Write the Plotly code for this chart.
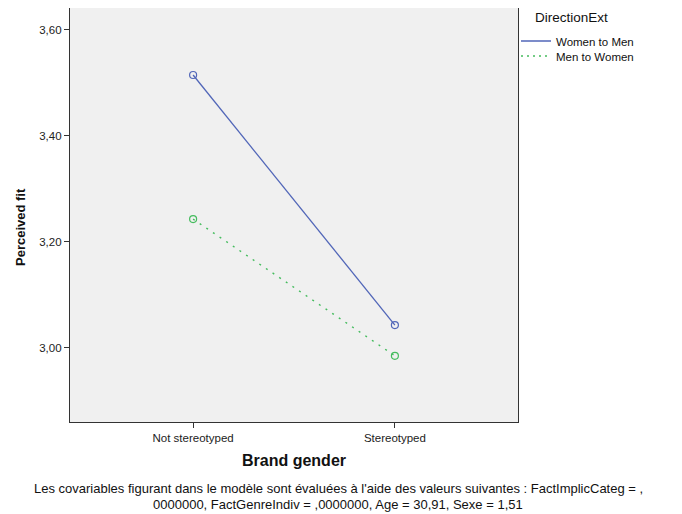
import plotly.graph_objects as go

categories = ["Not stereotyped", "Stereotyped"]
series_names = ["Women to Men", "Men to Women"]
women_to_men = [3.515, 3.043]
men_to_women = [3.243, 2.985]
y_ticks = [3.00, 3.20, 3.40, 3.60]
y_tick_labels = ["3,00", "3,20", "3,40", "3,60"]
footnote_lines = [
    "Les covariables figurant dans le modèle sont évaluées à l'aide des valeurs suivantes : FactImplicCateg = ,",
    "0000000, FactGenreIndiv = ,0000000, Age = 30,91, Sexe = 1,51",
]

FONT = "Liberation Sans, Arial, sans-serif"
BLUE = "#5166B8"
GREEN = "#45BC5E"
W, H = 674, 506          # page body has an 8px offset in the browser
ML, MR, MT, MB = 62, 164, 0, 92

fig = go.Figure()
fig.add_trace(go.Scatter(
    x=categories, y=women_to_men, name=series_names[0], mode="lines+markers",
    line=dict(color=BLUE, width=1.3), showlegend=False,
    marker=dict(symbol="circle-open", size=7, color=BLUE, line=dict(width=1.2)),
))
fig.add_trace(go.Scatter(
    x=categories, y=men_to_women, name=series_names[1], mode="lines+markers",
    line=dict(color=GREEN, width=1.4, dash="2px,6px"), showlegend=False,
    marker=dict(symbol="circle-open", size=7, color=GREEN, line=dict(width=1.2)),
))
# legend entries (line samples only, as in the reference)
fig.add_trace(go.Scatter(x=[None], y=[None], name=series_names[0], mode="lines",
                         line=dict(color=BLUE, width=1.3), legend="legend"))
fig.add_trace(go.Scatter(x=[None], y=[None], name=series_names[1], mode="lines",
                         line=dict(color=GREEN, width=1.4, dash="2px,4px"), legend="legend2"))

pw = W - ML - MR
ph = H - MT - MB
leg_common = dict(x=(508 - ML) / pw, xanchor="left", yanchor="middle",
                  font=dict(size=11.5, color="#111"), itemwidth=30,
                  bgcolor="rgba(0,0,0,0)")
fig.update_layout(
    width=W, height=H,
    margin=dict(l=ML, r=MR, t=MT, b=MB),
    paper_bgcolor="white", plot_bgcolor="#F0F0F0",
    font=dict(family=FONT, size=11.5, color="#222"),
    legend=dict(y=1 - (33 - MT) / ph, **leg_common),
    legend2=dict(y=1 - (48 - MT) / ph, **leg_common),
    showlegend=True,
)
fig.update_xaxes(
    type="category", range=[-0.61, 1.61],
    showgrid=False, zeroline=False, showline=True, linecolor="#333", linewidth=1.3,
    mirror=True, ticks="outside", ticklen=5, tickcolor="#333",
    tickfont=dict(size=11.5, color="#222"),
)
fig.update_yaxes(
    range=[2.860, 3.6415], tickvals=y_ticks, ticktext=y_tick_labels,
    showgrid=False, zeroline=False, showline=True, linecolor="#333", linewidth=1.3,
    mirror=True, ticks="outside", ticklen=5, tickcolor="#333",
    tickfont=dict(size=11.5, color="#222"),
)
# axis titles
fig.add_annotation(text="<b>Perceived fit</b>", xref="paper", yref="paper",
                   x=0, y=1 - (219 - MT) / ph, xshift=-(ML - 12), textangle=-90,
                   xanchor="center", yanchor="middle", showarrow=False,
                   font=dict(size=13, color="#111"))
fig.add_annotation(text="<b>Brand gender</b>", xref="paper", yref="paper",
                   x=(286 - ML) / pw, y=0, yshift=-38, xanchor="center", yanchor="middle",
                   showarrow=False, font=dict(size=16, color="#111"))
# legend title
fig.add_annotation(text="DirectionExt", xref="paper", yref="paper",
                   x=(525 - ML) / pw, y=1 - (10 - MT) / ph, xanchor="left", yanchor="middle",
                   showarrow=False, font=dict(size=13.5, color="#111"))
# footnote, two centred lines
for line, yc in zip(footnote_lines, [480, 496]):
    fig.add_annotation(
        text=line, xref="paper", yref="paper", x=(330 - ML) / pw, y=0,
        yshift=-(yc - (H - MB)), xanchor="center", yanchor="middle",
        showarrow=False, font=dict(size=13, color="#111"),
    )
fig.write_html("out.html")
